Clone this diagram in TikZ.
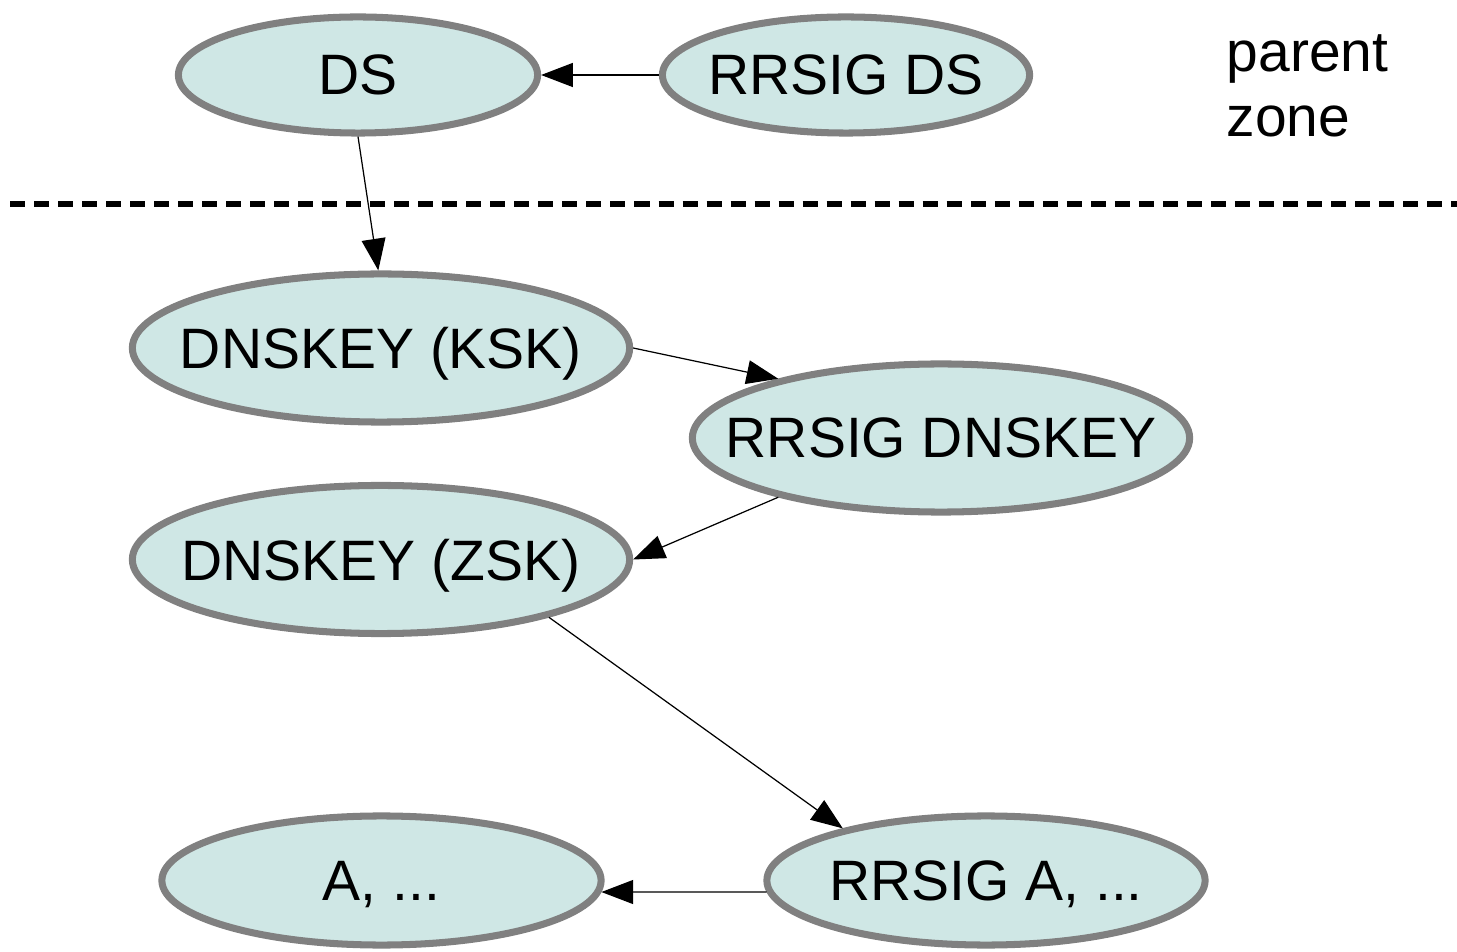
\documentclass[tikz,border=0pt]{standalone}
\usepackage{fontspec}
\setmainfont{Liberation Sans}
\usetikzlibrary{arrows.meta,shapes.geometric}
\definecolor{rrfill}{RGB}{207,231,229}
\definecolor{rrline}{RGB}{128,128,128}
\newcommand{\rrtext}[1]{\makebox[0pt]{#1}}
\tikzset{
  rrset/.style={ellipse,draw=rrline,fill=rrfill,line width=2pt,inner sep=0pt,
    text depth=0pt,font=\fontsize{16.2}{19.5}\selectfont},
  sigarrow/.style={-{Triangle[length=9pt,width=6.8pt]},line width=0.35pt},
  zonecut/.style={line width=1.7pt,dash pattern=on 4.27pt off 2.56pt},
  zonelabel/.style={anchor=base west,inner sep=0pt,font=\fontsize{16.2}{19.5}\selectfont}
}
\begin{document}
\begin{tikzpicture}[x=0.01cm,y=-0.01cm]
    \useasboundingbox (0,0) rectangle (1457,952);
    % parent zone
    \node[rrset,minimum width=3.59cm,minimum height=1.16cm] (ds) at (358,75) {\rrtext{DS}};
    \node[rrset,minimum width=3.67cm,minimum height=1.16cm] (rrsigds) at (846,75) {\rrtext{RRSIG DS}};
    \node[zonelabel] (parentlbl) at (1226,72) {parent};
    \node[zonelabel] (zonelbl) at (1226,137) {zone};
    \draw[zonecut] (10,204)--(1457,204);
    % child zone
    \node[rrset,minimum width=4.97cm,minimum height=1.48cm] (ksk) at (381,348) {\rrtext{DNSKEY (KSK)}};
    \node[rrset,minimum width=4.97cm,minimum height=1.48cm] (rrsigkey) at (941,438) {\rrtext{RRSIG DNSKEY}};
    \node[rrset,minimum width=4.97cm,minimum height=1.48cm] (zsk) at (381,559.5) {\rrtext{DNSKEY (ZSK)}};
    \node[rrset,minimum width=4.39cm,minimum height=1.29cm] (arec) at (381.5,880.5) {\rrtext{A, ...}};
    \node[rrset,minimum width=4.38cm,minimum height=1.29cm] (rrsiga) at (986,880.5) {\rrtext{RRSIG A, ...}};
    \draw[sigarrow] (rrsigds.west)--(ds.east);
    \draw[sigarrow] (ds.south)--(ksk.92);
    \draw[sigarrow] (ksk.east)--(rrsigkey.160);
    \draw[sigarrow] (rrsigkey.200)--(zsk.east);
    \draw[sigarrow] (zsk.-19)--(rrsiga.160);
    \draw[sigarrow] (rrsiga.183)--(arec.-3);
  \end{tikzpicture}
\end{document}
